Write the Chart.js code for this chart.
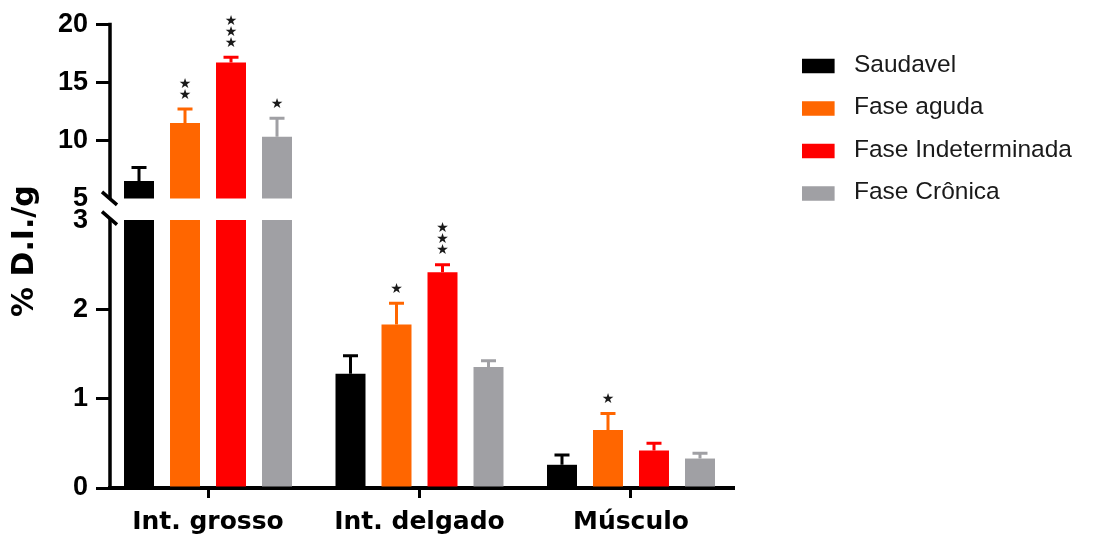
<!DOCTYPE html>
<html>
<head>
<meta charset="utf-8">
<script src="https://cdn.jsdelivr.net/npm/chart.js@4.4.1/dist/chart.umd.min.js"></script>
<style>
  html, body { margin: 0; padding: 0; background: #ffffff; }
  canvas { display: block; }
</style>
</head>
<body>
<canvas id="chart" width="1093" height="538"></canvas>
<script>
// Categories and series
const categories = ['Int. grosso', 'Int. delgado', 'Músculo'];
const seriesNames = ['Saudavel', 'Fase aguda', 'Fase Indeterminada', 'Fase Crônica'];
const seriesColors = ['#000000', '#FF6600', '#FF0000', '#A0A0A4'];

// Mean % D.I./g per category
const saudavel          = [6.5, 1.28, 0.26];
const faseAguda         = [11.5, 1.83, 0.65];
const faseIndeterminada = [16.7, 2.415, 0.42];
const faseCronica       = [10.3, 1.355, 0.33];

// Error (upper bar only)
const saudavelErr          = [1.17, 0.20, 0.11];
const faseAgudaErr         = [1.2, 0.24, 0.185];
const faseIndeterminadaErr = [0.45, 0.085, 0.08];
const faseCronicaErr       = [1.6, 0.07, 0.06];

// Number of significance stars above each bar
const saudavelStars          = [0, 0, 0];
const faseAgudaStars         = [2, 1, 1];
const faseIndeterminadaStars = [3, 3, 0];
const faseCronicaStars       = [1, 0, 0];

// Broken y axis: lower segment 0–3, upper segment 5–20
const lowerTicks = [0, 1, 2, 3];
const upperTicks = [5, 10, 15, 20];
const axisBreak = [3, 5];
const upperScaleMin = 3.13;   // leaves the gap between the two segments
const yTitle = '% D.I./g';

const seriesValues = [saudavel, faseAguda, faseIndeterminada, faseCronica];
const seriesErrors = [saudavelErr, faseAgudaErr, faseIndeterminadaErr, faseCronicaErr];
const seriesStars = [saudavelStars, faseAgudaStars, faseIndeterminadaStars, faseCronicaStars];

const barStyle = { categoryPercentage: 0.87, barPercentage: 0.652 };

function makeDataset(s, axisId) {
  return Object.assign({
    label: seriesNames[s],
    data: seriesValues[s].map((v, i) => ({ x: i, y: v })),
    backgroundColor: seriesColors[s],
    borderWidth: 0,
    yAxisID: axisId,
    stack: 'series' + s
  }, barStyle);
}

const datasets = [];
for (let s = 0; s < seriesNames.length; s++) datasets.push(makeDataset(s, 'yLow'));
for (let s = 0; s < seriesNames.length; s++) datasets.push(makeDataset(s, 'yHigh'));

const brokenAxisPlugin = {
  id: 'brokenAxis',
  beforeDatasetDraw(chart, args) {
    const meta = args.meta;
    const ys = chart.scales[meta.yAxisID];
    const ctx = chart.ctx;
    ctx.save();
    ctx.beginPath();
    if (meta.yAxisID === 'yHigh') {
      const bottom = ys.getPixelForValue(axisBreak[1]);
      ctx.rect(0, 0, chart.width, bottom);
    } else {
      const top = ys.getPixelForValue(axisBreak[0]);
      ctx.rect(0, top, chart.width, chart.height - top);
    }
    ctx.clip();
  },
  afterDatasetDraw(chart) {
    chart.ctx.restore();
  },
  afterDatasetsDraw(chart) {
    const ctx = chart.ctx;
    const low = chart.scales.yLow, high = chart.scales.yHigh;
    ctx.save();
    for (let s = 0; s < seriesNames.length; s++) {
      const meta = chart.getDatasetMeta(s);
      seriesValues[s].forEach((mean, i) => {
        const el = meta.data[i];
        const x = el.x;
        const scale = mean > axisBreak[0] ? high : low;
        const yMean = scale.getPixelForValue(mean);
        const yTop = scale.getPixelForValue(mean + seriesErrors[s][i]);
        ctx.strokeStyle = seriesColors[s];
        ctx.lineWidth = 3;
        ctx.lineCap = 'butt';
        ctx.beginPath();
        ctx.moveTo(x, yMean);
        ctx.lineTo(x, yTop);
        ctx.moveTo(x - 7.5, yTop);
        ctx.lineTo(x + 7.5, yTop);
        ctx.stroke();
        ctx.fillStyle = '#1a1a1a';
        ctx.font = '14px "DejaVu Sans"';
        ctx.textAlign = 'center';
        ctx.textBaseline = 'middle';
        for (let k = 0; k < seriesStars[s][i]; k++) {
          ctx.fillText('\u2605', x, yTop - 14 - k * 11);
        }
      });
    }
    ctx.restore();
  },
  afterDraw(chart) {
    const ctx = chart.ctx;
    const low = chart.scales.yLow, high = chart.scales.yHigh;
    const ax = chart.chartArea.left;
    const yHighTop = high.getPixelForValue(upperTicks[upperTicks.length - 1]);
    const yHighEnd = high.getPixelForValue(axisBreak[1]);
    const yLowTop = low.getPixelForValue(axisBreak[0]);
    const yLowEnd = low.getPixelForValue(0);
    ctx.save();
    ctx.strokeStyle = '#000';
    ctx.lineWidth = 3.5;
    ctx.lineCap = 'butt';
    ctx.beginPath();
    ctx.moveTo(ax, yHighTop - 1.5);
    ctx.lineTo(ax, yHighEnd);
    ctx.moveTo(ax, yLowTop - 2);
    ctx.lineTo(ax, yLowEnd + 2);
    ctx.stroke();
    // break marks
    ctx.lineWidth = 3.5;
    ctx.beginPath();
    [yHighEnd, yLowTop - 2].forEach(y => {
      ctx.moveTo(ax - 8, y - 6.5);
      ctx.lineTo(ax + 7, y + 6.5);
    });
    ctx.stroke();

    // y axis title
    ctx.fillStyle = '#000';
    ctx.font = 'bold 30px "DejaVu Sans"';
    ctx.textAlign = 'center';
    ctx.textBaseline = 'middle';
    ctx.translate(25, (chart.chartArea.top + chart.chartArea.bottom) / 2 - 5);
    ctx.rotate(-Math.PI / 2);
    ctx.fillText(yTitle, 0, 0);
    ctx.restore();

    // legend
    ctx.save();
    ctx.font = '24.5px "Liberation Sans"';
    ctx.textAlign = 'left';
    ctx.textBaseline = 'middle';
    seriesNames.forEach((name, s) => {
      const cy = 66 + s * 42.5;
      ctx.fillStyle = seriesColors[s];
      ctx.fillRect(802, cy - 7.25, 32.6, 14.5);
      ctx.fillStyle = '#1a1a1a';
      ctx.fillText(name, 854, cy - 1);
    });
    ctx.restore();
  }
};

const tickFont = { family: '"Liberation Sans"', size: 27, weight: 'bold' };
const hideBreakTick = (c) => (c.tick && axisBreak.includes(c.tick.value)) ? 'rgba(0,0,0,0)' : '#000';

function yScale(min, max, ticks, weight) {
  return {
    type: 'linear',
    position: 'left',
    stack: 'y',
    stackWeight: weight,
    stacked: false,
    min: min,
    max: max,
    bounds: 'data',
    border: { display: false },
    grid: { drawOnChartArea: false, drawTicks: true, tickLength: 14, lineWidth: 3, color: hideBreakTick },
    ticks: { font: tickFont, color: '#000', padding: 8, autoSkip: false, callback: (v) => String(v) },
    afterBuildTicks: (scale) => { scale.ticks = ticks.map(v => ({ value: v })); },
    afterFit: (scale) => { scale.width = 110; }
  };
}

new Chart(document.getElementById('chart'), {
  type: 'bar',
  data: { datasets: datasets },
  options: {
    responsive: false,
    animation: false,
    devicePixelRatio: 1,
    layout: { padding: { left: 0, right: 360, top: 24, bottom: 0 } },
    plugins: { legend: { display: false }, tooltip: { enabled: false } },
    scales: {
      x: {
        type: 'linear',
        min: -0.4634,
        max: 2.4823,
        bounds: 'data',
        offset: false,
        border: { display: true, width: 4, color: '#000' },
        grid: { offset: false, drawOnChartArea: false, drawTicks: true, tickLength: 10, lineWidth: 3, color: '#000' },
        ticks: {
          font: { family: '"DejaVu Sans"', size: 25, weight: 'bold' },
          color: '#000',
          padding: 9,
          maxRotation: 0,
          autoSkip: false,
          callback: (v) => categories[v]
        },
        afterBuildTicks: (scale) => { scale.ticks = categories.map((c, i) => ({ value: i })); },
        afterFit: (scale) => { scale.height = 50; }
      },
      yLow: yScale(0, axisBreak[0], lowerTicks, 268),
      yHigh: yScale(upperScaleMin, 20, upperTicks, 196)
    }
  },
  plugins: [brokenAxisPlugin]
});
</script>
</body>
</html>
